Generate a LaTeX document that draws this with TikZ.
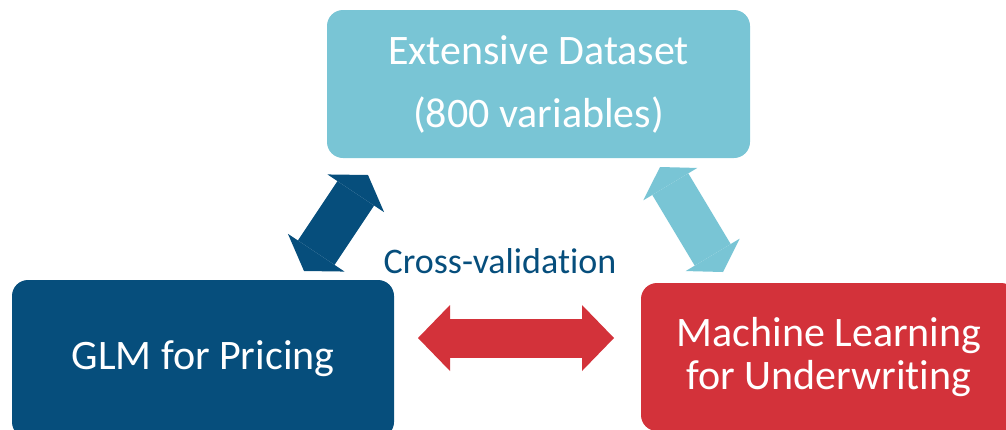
\documentclass[tikz,border=0pt]{standalone}
\usepackage{fontspec}
\setmainfont{Carlito}[Ligatures={NoCommon}]
\usetikzlibrary{arrows.meta}
\usetikzlibrary{calc}
\usepackage{xcolor}

\definecolor{dataBlue}{HTML}{79C5D5}
\definecolor{glmBlue}{HTML}{064E7C}
\definecolor{mlRed}{HTML}{D3323A}

\tikzset{
  box/.style={rounded corners=16pt, text=white, align=center, inner sep=0pt},
  twoway/.style n args={3}{line width=#1,
    {Triangle[width=#2,length=#3,line width=0pt]}-{Triangle[width=#2,length=#3,line width=0pt]}}
}

\begin{document}
\begin{tikzpicture}[x=1pt,y=-1pt]
      \clip (0,0) rectangle (1006,429);

      % Boxes
      \node[box, fill=dataBlue, minimum width=423pt, minimum height=148pt,
            font=\fontsize{42}{63}\selectfont] (data) at (538.5,84)
            {Extensive Dataset\\(800 variables)};
      \node[box, fill=glmBlue, minimum width=382pt, minimum height=158pt,
            font=\fontsize{42}{50}\selectfont] (glm) at (203,359) {GLM for Pricing};
      \node[box, fill=mlRed, minimum width=376pt, minimum height=148pt,
            font=\fontsize{42}{43}\selectfont] (ml) at (829,357)
            {Machine Learning\\for Underwriting};

      % Arrow ends
      \coordinate (G1) at (304,271);
      \coordinate (D1) at (368,175);
      \coordinate (D2) at (660,167);
      \coordinate (M2) at (723,272);
      \coordinate (G3) at (418,338);
      \coordinate (M3) at (614,338);

      % Arrows
      \draw[glmBlue, twoway={44pt}{68pt}{22pt}] (G1) -- (D1);
      \draw[dataBlue, twoway={42pt}{63pt}{20pt}] (D2) -- (M2);
      \draw[mlRed, twoway={39pt}{66pt}{32pt}] (G3) -- (M3);

      % Label
      \node[glmBlue, font=\fontsize{36}{40}\selectfont, anchor=base] (cv) at (500,273) {Cross-validation};
  \end{tikzpicture}
\end{document}
